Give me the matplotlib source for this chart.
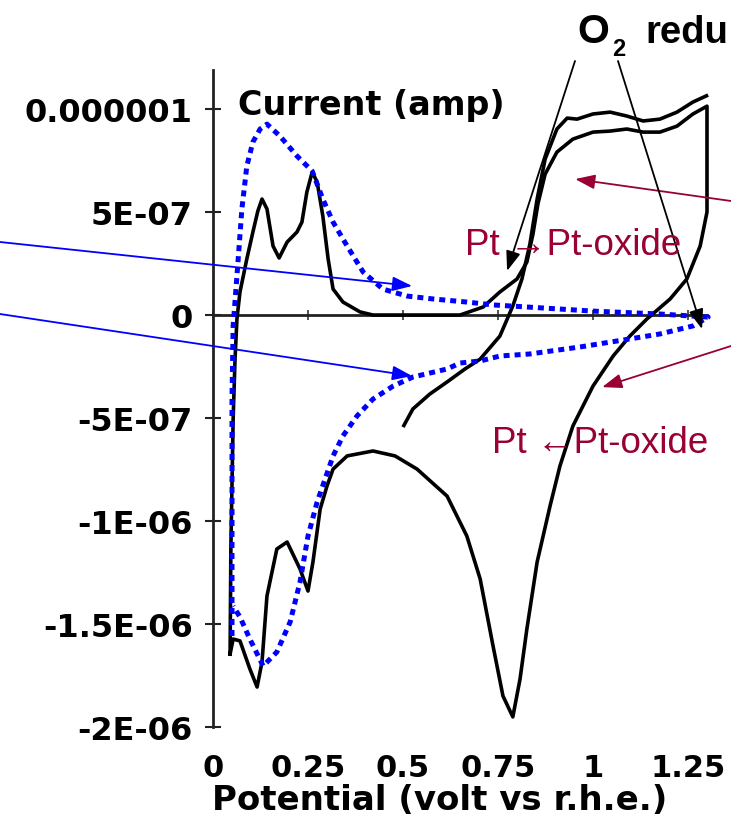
import matplotlib
matplotlib.use('Agg')
import matplotlib.pyplot as plt
import numpy as np

# ---- data (potential in V vs r.h.e., current in microamps) ----
# black CV (full cycle)
cv1_v = [0.045, 0.047, 0.053, 0.058, 0.063, 0.071, 0.089, 0.105, 0.118, 0.129, 0.142, 0.158,
         0.174, 0.195, 0.221, 0.234, 0.247, 0.261, 0.274, 0.289, 0.303, 0.316, 0.342, 0.387,
         0.421, 0.650, 0.711, 0.755, 0.800, 0.826, 0.842, 0.855, 0.874, 0.905, 0.947, 1.000,
         1.045, 1.089, 1.132, 1.176, 1.221, 1.263, 1.300,
         1.300, 1.300, 1.282, 1.247, 1.203, 1.142, 1.097, 1.053, 1.000, 0.947, 0.913, 0.887,
         0.853, 0.826, 0.808, 0.789, 0.763, 0.737, 0.703, 0.668, 0.616, 0.537, 0.479, 0.421,
         0.353, 0.316, 0.300, 0.282, 0.263, 0.250, 0.229, 0.195, 0.168, 0.142, 0.129, 0.116,
         0.097, 0.071, 0.053, 0.045]
cv1_i = [-1.646, -1.136, -0.505, -0.214, -0.019, 0.112, 0.272, 0.403, 0.505, 0.563, 0.515, 0.335,
         0.277, 0.354, 0.403, 0.451, 0.597, 0.694, 0.646, 0.481, 0.272, 0.126, 0.063, 0.015,
         0.000, 0.000, 0.039, 0.112, 0.175, 0.257, 0.393, 0.539, 0.684, 0.791, 0.854, 0.888,
         0.893, 0.903, 0.888, 0.888, 0.917, 0.976, 1.014,
         0.806, 0.500, 0.335, 0.175, 0.078, -0.019, -0.102, -0.199, -0.345, -0.539, -0.733, -0.927,
         -1.199, -1.524, -1.767, -1.951, -1.849, -1.607, -1.281, -1.073, -0.879, -0.748, -0.684, -0.660,
         -0.684, -0.748, -0.830, -0.942, -1.199, -1.340, -1.233, -1.102, -1.136, -1.364, -1.684, -1.806,
         -1.718, -1.582, -1.573, -1.646]

# black anodic sweep starting at 0.5 V
cv2_v = [0.500, 0.526, 0.571, 0.616, 0.663, 0.703, 0.755, 0.789, 0.813, 0.834, 0.853, 0.874,
         0.905, 0.932, 0.958, 1.000, 1.045, 1.089, 1.132, 1.176, 1.221, 1.263, 1.303]
cv2_i = [-0.544, -0.456, -0.383, -0.325, -0.262, -0.214, -0.102, 0.044, 0.175, 0.345, 0.563, 0.757,
         0.903, 0.956, 0.951, 0.976, 0.985, 0.966, 0.942, 0.951, 0.985, 1.034, 1.068]

# blue dotted CV
cv3_v = [0.050, 0.050, 0.050, 0.053, 0.063, 0.076, 0.089, 0.105, 0.124, 0.142, 0.176, 0.221,
         0.261, 0.289, 0.316, 0.353, 0.395, 0.447, 0.511, 0.579, 0.668, 0.737, 0.826, 1.000,
         1.176, 1.303,
         1.263, 1.176, 1.097, 0.966, 0.834, 0.755, 0.703, 0.650, 0.616, 0.526, 0.474, 0.421,
         0.379, 0.342, 0.316, 0.295, 0.274, 0.250, 0.229, 0.203, 0.168, 0.132, 0.097, 0.071,
         0.053]
cv3_i = [-1.558, -0.893, -0.408, -0.053, 0.189, 0.515, 0.723, 0.840, 0.903, 0.927, 0.869, 0.772,
         0.699, 0.563, 0.451, 0.335, 0.209, 0.126, 0.092, 0.078, 0.063, 0.049, 0.039, 0.019,
         0.005, -0.010,
         -0.053, -0.092, -0.116, -0.155, -0.189, -0.199, -0.223, -0.233, -0.262, -0.301, -0.345, -0.408,
         -0.490, -0.587, -0.684, -0.796, -0.908, -1.073, -1.296, -1.490, -1.636, -1.704, -1.573, -1.466,
         -1.413]

y_ticks = [1e-6, 5e-7, 0, -5e-7, -1e-6, -1.5e-6, -2e-6]
y_labels = ['0.000001', '5E-07', '0', '-5E-07', '-1E-06', '-1.5E-06', '-2E-06']
x_ticks = [0, 0.25, 0.5, 0.75, 1.0, 1.25]
x_labels = ['0', '0.25', '0.5', '0.75', '1', '1.25']

W, H = 731, 837
RED = '#990033'
BLUE = '#0000ff'

fig = plt.figure(figsize=(W / 100, H / 100), dpi=100)
ax = fig.add_axes([213 / W, (H - 728) / H, 516.8 / W, 657.1 / H])
ax.set_xlim(0, 1.36)
ax.set_ylim(-2e-6, 1.19e-6)
ax.patch.set_alpha(0)

ua = 1e-6
ax.plot(cv1_v, np.array(cv1_i) * ua, color='black', lw=2.6, solid_joinstyle='round', zorder=3)
ax.plot(cv2_v, np.array(cv2_i) * ua, color='black', lw=2.6, solid_joinstyle='round',
        solid_capstyle='butt', zorder=3)
ax.plot(cv3_v, np.array(cv3_i) * ua, color=BLUE, lw=3.6, linestyle=(0, (1.2, 1.0)),
        dash_capstyle='butt', zorder=4)

# spines
for s in ['top', 'right']:
    ax.spines[s].set_visible(False)
ax.spines['left'].set_linewidth(2)
ax.spines['left'].set_color('#222222')
ax.spines['bottom'].set_position(('data', 0))
ax.spines['bottom'].set_bounds(0, 1.3)
ax.spines['bottom'].set_linewidth(2)
ax.spines['bottom'].set_color('#222222')

ax.set_yticks(y_ticks, y_labels)
ax.tick_params(axis='y', direction='inout', length=12, width=1.5, color='#222222',
               pad=8.5, labelsize=23)
for t in ax.get_yticklabels():
    t.set_fontweight('bold')
ax.set_xticks(x_ticks)
ax.tick_params(axis='x', direction='inout', length=7, width=1.3, color='#444444',
               labelbottom=False)

sec = ax.secondary_xaxis('bottom')
sec.set_xticks(x_ticks, x_labels)
sec.tick_params(length=0, pad=19, labelsize=22)
for s in sec.spines.values():
    s.set_visible(False)
for t in sec.get_xticklabels():
    t.set_fontweight('bold')

# axis titles
fig.text(238 / W, (H - 115) / H, 'Current (amp)', fontsize=24, fontweight='bold',
         ha='left', va='baseline')
fig.text(212 / W, 27 / H, 'Potential (volt vs r.h.e.)', fontsize=24.5, fontweight='bold',
         ha='left', va='baseline')

# O2 reduction label (cropped at the right edge in the original)
ofam = ['Liberation Sans', 'DejaVu Sans']
fig.text(577 / W, (H - 43) / H, 'O', fontsize=29.5, fontweight='bold', family=ofam,
         ha='left', va='baseline')
fig.text(612 / W, (H - 56) / H, '2', fontsize=17, fontweight='bold', family=ofam,
         ha='left', va='baseline')
fig.text(645 / W, (H - 43) / H, 'redu', fontsize=27.5, fontweight='bold', family=ofam,
         ha='left', va='baseline')

# red labels
fig.text(465 / W, (H - 255) / H, 'Pt \u2192Pt-oxide', fontsize=26.5, color=RED, family=ofam,
         ha='left', va='baseline')
fig.text(492 / W, (H - 453) / H, 'Pt \u2190Pt-oxide', fontsize=26.5, color=RED, family=ofam,
         ha='left', va='baseline')

def arrow(tip, start_px, color, lw=1.3):
    ax.annotate('', xy=tip, xycoords='data',
                xytext=(start_px[0] / W, (H - start_px[1]) / H), textcoords='figure fraction',
                arrowprops=dict(arrowstyle='-|>,head_length=0.6,head_width=0.22', color=color,
                                lw=lw, shrinkA=0, shrinkB=0, mutation_scale=20),
                annotation_clip=False, zorder=6)

arrow((0.524, 0.141e-6), (0, 243), BLUE)
arrow((0.524, -0.296e-6), (0, 315), BLUE)
arrow((0.953, 0.660e-6), (731, 202), RED)
arrow((1.024, -0.350e-6), (731, 347), RED)
arrow((0.774, 0.214e-6), (575, 62), 'black')
arrow((1.287, -0.068e-6), (618, 62), 'black')

fig.savefig('out.png', dpi=100)
